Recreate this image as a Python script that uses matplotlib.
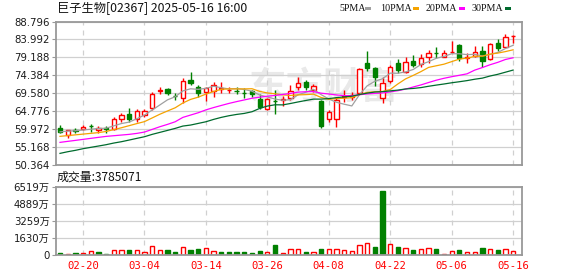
import matplotlib
matplotlib.use('Agg')
import matplotlib.pyplot as plt
import numpy as np
import pandas as pd
from matplotlib.patches import Rectangle

# ---------------- data ----------------
dates = ['02-17', '02-18', '02-19', '02-20', '02-21', '02-24', '02-25', '02-26', '02-27', '02-28',
         '03-03', '03-04', '03-05', '03-06', '03-07', '03-10', '03-11', '03-12', '03-13', '03-14',
         '03-17', '03-18', '03-19', '03-20', '03-21', '03-24', '03-25', '03-26', '03-27', '03-28',
         '03-31', '04-01', '04-02', '04-03', '04-07', '04-08', '04-09', '04-10', '04-11', '04-14',
         '04-15', '04-16', '04-17', '04-22', '04-23', '04-24', '04-25', '04-28', '04-29', '04-30',
         '05-02', '05-06', '05-07', '05-08', '05-09', '05-12', '05-13', '05-14', '05-15', '05-16']

opens = [60.40, 58.36, 59.80, 59.96, 60.90, 59.69, 60.20, 60.14, 62.81, 64.05,
         62.72, 63.79, 65.74, 70.30, 70.73, 69.00, 68.24, 73.13, 71.17, 69.84,
         70.28, 70.70, 70.50, 70.35, 69.80, 70.10, 67.97, 65.30, 67.60, 67.80,
         68.24, 71.17, 72.50, 70.46, 67.52, 62.81, 62.63, 68.60, 68.50, 69.57,
         77.75, 76.24, 68.24, 72.95, 77.58, 75.35, 78.20, 77.31, 79.36, 80.50,
         79.36, 80.60, 82.47, 79.10, 79.53, 80.87, 78.73, 82.92, 82.03, 84.95]
highs = [61.12, 59.87, 60.40, 61.20, 61.47, 60.85, 60.85, 63.34, 64.23, 65.57,
         65.30, 65.30, 70.01, 71.35, 70.90, 69.75, 73.57, 75.35, 71.80, 71.35,
         72.68, 72.68, 71.35, 71.35, 71.08, 70.46, 69.39, 68.24, 70.46, 68.86,
         71.80, 73.84, 73.13, 72.06, 67.79, 65.12, 68.50, 70.46, 70.01, 76.42,
         80.87, 76.69, 73.84, 77.13, 78.74, 79.36, 79.80, 79.98, 81.31, 81.85,
         81.31, 83.63, 82.65, 80.42, 82.20, 82.20, 82.92, 84.25, 85.58, 85.14]
lows = [58.89, 57.56, 58.89, 59.90, 59.34, 59.07, 58.89, 59.78, 62.00, 62.00,
        62.00, 63.34, 65.12, 69.39, 69.13, 67.79, 67.08, 71.80, 68.68, 67.52,
        68.50, 69.57, 69.57, 69.39, 68.24, 68.50, 65.30, 65.12, 63.96, 66.19,
        67.79, 70.46, 70.46, 70.01, 60.40, 61.92, 60.67, 67.35, 67.79, 69.39,
        75.62, 71.62, 66.90, 72.42, 75.09, 74.91, 76.69, 76.69, 77.75, 78.91,
        79.18, 80.25, 78.29, 77.75, 79.18, 76.69, 78.64, 80.96, 81.85, 83.09]
closes = [59.34, 59.69, 59.60, 60.58, 60.80, 60.40, 60.00, 62.72, 63.70, 62.72,
          64.85, 65.00, 69.39, 70.50, 69.57, 68.90, 72.86, 72.24, 69.75, 70.90,
          71.71, 70.90, 70.60, 70.25, 69.70, 69.39, 65.83, 67.97, 67.50, 68.00,
          70.28, 72.24, 71.35, 71.53, 60.85, 64.50, 67.79, 68.80, 69.21, 75.98,
          76.24, 73.84, 72.24, 76.69, 75.80, 78.02, 77.13, 78.91, 80.45, 80.30,
          80.51, 80.70, 78.91, 79.30, 80.69, 78.29, 82.74, 81.58, 84.52, 85.05]
# volume in 万 shares
volumes = [220, 95, 190, 190, 378, 284, 95, 473, 473, 473,
           473, 284, 851, 473, 473, 284, 756, 473, 567, 662,
           378, 284, 284, 284, 284, 190, 378, 284, 945, 190,
           536, 536, 284, 284, 567, 567, 567, 473, 378, 945,
           1134, 788, 6048, 1040, 788, 630, 473, 536, 630, 567,
           95, 378, 473, 284, 284, 662, 567, 473, 567, 378.5]

# moving-average values before the window is complete
ma5_head = [59.3, 59.5, 59.6, 59.8]
ma10_head = [58.1, 58.3, 58.5, 58.7, 58.9, 59.1, 59.4, 59.9, 60.4]
ma20_head = [56.49, 56.76, 57.02, 57.29, 57.56, 57.83, 58.09, 58.27, 58.45, 58.63,
             58.89, 59.25, 59.96, 60.67, 61.30, 62.00, 63.17, 63.79, 64.41]
ma30_head = [53.55, 53.99, 54.36, 54.80, 55.16, 55.51, 55.87, 56.31, 56.67, 57.11,
             57.56, 58.00, 58.63, 59.16, 59.69, 60.23, 60.85, 61.12, 61.56, 62.00,
             62.63, 63.17, 63.61, 63.96, 64.23, 64.68, 65.57, 66.19, 66.54]

price_ticks = [50.364, 55.168, 59.972, 64.776, 69.580, 74.384, 79.188, 83.992, 88.796]
vol_ticks = [0, 1630, 3259, 4889, 6519]
vol_tick_labels = ['0', '1630万', '3259万', '4889万', '6519万']
date_tick_labels = ['02-20', '03-04', '03-14', '03-26', '04-08', '04-22', '05-06', '05-16']

title = '巨子生物[02367] 2025-05-16 16:00'
vol_title = '成交量:3785071'
ma_names = ['5PMA', '10PMA', '20PMA', '30PMA']

# ---------------- style ----------------
RED = '#ff0000'
GREEN = '#008000'
MA_COLORS = ['#a0a0a0', '#f5a300', '#ff00ff', '#006b2e']
GRID = '#d0d0d0'
FRAME = '#999999'

W, H = 578, 276
fig = plt.figure(figsize=(W / 100, H / 100), dpi=100)

def fx(px):
    return px / W

def fy(py):
    return 1 - py / H

L_PX, R_PX = 56, 522
axp = fig.add_axes([fx(L_PX), fy(165.3), fx(R_PX - L_PX), (165.3 - 21.5) / H])
axv = fig.add_axes([fx(L_PX), fy(255), fx(R_PX - L_PX), (255 - 186.5) / H])

O = np.array(opens); Hh = np.array(highs); Lw = np.array(lows); C = np.array(closes)
V = np.array(volumes)
x = np.arange(len(dates))
up = C >= O

# MA lines
cs = pd.Series(C)
def moving_avg(w, head):
    m = cs.rolling(w).mean().to_numpy()
    m[:len(head)] = head
    return m
mas = [moving_avg(5, ma5_head), moving_avg(10, ma10_head),
       moving_avg(20, ma20_head), moving_avg(30, ma30_head)]

# watermark
axp.text(0.575, 0.54, '东方财富', transform=axp.transAxes, ha='center', va='center',
         fontsize=27, color='#e9e9e9', family=['Noto Sans CJK SC'], fontweight='bold', zorder=0.5)

# candles
wick_colors = [RED if u else GREEN for u in up]
axp.vlines(x, Lw, Hh, colors=wick_colors, linewidth=1.0, zorder=2)
body_bottom = np.minimum(O, C)
body_h = np.maximum(np.abs(C - O), 1e-4)
bw = 0.56
axp.bar(x[up], body_h[up], bottom=body_bottom[up], width=bw, facecolor='white',
        edgecolor=RED, linewidth=1.0, zorder=2.5)
axp.bar(x[~up], body_h[~up], bottom=body_bottom[~up], width=bw, facecolor=GREEN,
        edgecolor=GREEN, linewidth=1.0, zorder=2.5)

for m, col in zip(mas, MA_COLORS):
    axp.plot(x, m, color=col, linewidth=0.9, zorder=3)

# volume bars (colour by change versus previous close)
prev = np.concatenate([[O[0]], C[:-1]])
vup = C >= prev
axv.bar(x[vup], V[vup], width=bw, facecolor='white', edgecolor=RED, linewidth=1.0, zorder=2)
axv.bar(x[~vup], V[~vup], width=bw, facecolor=GREEN, edgecolor=GREEN, linewidth=1.0, zorder=2)

# axes styling
xt = [dates.index(d) for d in date_tick_labels]
for ax in (axp, axv):
    ax.set_xlim(-0.52, 60.16)
    ax.set_xticks(xt)
    ax.grid(axis='x', color=GRID, linestyle=(0, (4, 4)), linewidth=0.9, zorder=1)
    ax.grid(axis='y', color=GRID, linestyle='-', linewidth=0.9, zorder=1)
    ax.set_axisbelow(True)
    for s in ax.spines.values():
        s.set_color(FRAME)
        s.set_linewidth(1.3)
    ax.tick_params(axis='y', length=3, width=0.8, color=FRAME, pad=1.5,
                   labelsize=7.3, labelcolor='#1a1a1a')
    ax.tick_params(axis='x', length=0)

axp.set_ylim(price_ticks[0], price_ticks[-1])
axp.set_yticks(price_ticks)
axp.set_yticklabels(['%.3f' % t for t in price_ticks], family=['DejaVu Sans'])
axp.set_xticklabels([])

axv.set_ylim(0, vol_ticks[-1])
axv.set_yticks(vol_ticks)
axv.set_yticklabels(vol_tick_labels, family=['DejaVu Sans', 'Noto Sans CJK SC'])
axv.set_xticklabels(date_tick_labels, color=RED, fontsize=7.6, family=['DejaVu Sans Mono'])
axv.tick_params(axis='x', pad=4.5)

# titles
fig.text(fx(57), fy(8.7), title, ha='left', va='center', fontsize=8.8,
         family=['Noto Sans CJK SC'], color='#111111')
fig.text(fx(57), fy(176.7), vol_title, ha='left', va='center', fontsize=8.6,
         family=['Noto Sans CJK SC'], color='#111111')

# legend
leg_text_x = [339, 380, 425.7, 471.7]
leg_box_x = [365, 413, 459, 505]
for name, tx, bx, col in zip(ma_names, leg_text_x, leg_box_x, MA_COLORS):
    fig.text(fx(tx), fy(8.3), name, ha='left', va='center', fontsize=7.2,
             family=['Liberation Serif'], color='#111111')
    fig.patches.append(Rectangle((fx(bx), fy(10.0)), fx(6), 2.8 / H,
                                 transform=fig.transFigure, facecolor=col, edgecolor='none'))

fig.savefig('out.png', dpi=100)
